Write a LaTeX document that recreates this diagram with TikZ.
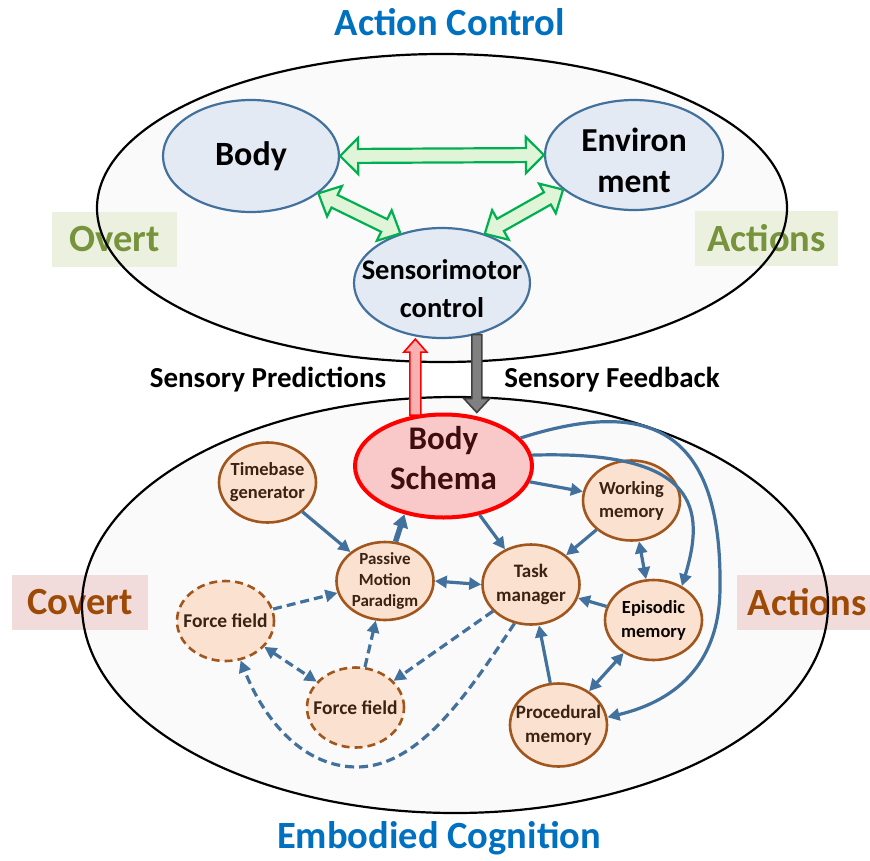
\documentclass[tikz,border=0pt]{standalone}
\usepackage{fontspec}
\setmainfont{Carlito}
\usetikzlibrary{shapes.geometric,arrows.meta,calc}
\definecolor{titleblue}{HTML}{0070C0}
\definecolor{ovgreen}{HTML}{77933C}
\definecolor{ovbox}{HTML}{EBF1DE}
\definecolor{cvbrown}{HTML}{9C4A06}
\definecolor{cvbox}{HTML}{F2DCDB}
\definecolor{bgell}{HTML}{FAFAFA}
\definecolor{bnfill}{HTML}{E4EAF4}
\definecolor{bnline}{HTML}{41719C}
\definecolor{pfill}{HTML}{FBE2D0}
\definecolor{pline}{HTML}{A0561C}
\definecolor{ptext}{HTML}{3B2314}
\definecolor{sfill}{HTML}{F9C9C9}
\definecolor{stext}{HTML}{3F0D0D}
\definecolor{arrblue}{HTML}{41719C}
\definecolor{gfill}{HTML}{E0F4D8}
\definecolor{gline}{HTML}{00B050}
\definecolor{rfill}{HTML}{F9B0B0}
\definecolor{grayfill}{HTML}{808080}
\definecolor{grayline}{HTML}{404040}
\newcommand\dblblock[5]{%
\draw[#3] (#1) -- ($(#1)!18pt!(#2)!#5!90:(#2)$) -- ($(#1)!18pt!(#2)!#4!90:(#2)$)
 -- ($(#2)!18pt!(#1)!#4!-90:(#1)$) -- ($(#2)!18pt!(#1)!#5!-90:(#1)$) -- (#2)
 -- ($(#2)!18pt!(#1)!#5!90:(#1)$) -- ($(#2)!18pt!(#1)!#4!90:(#1)$)
 -- ($(#1)!18pt!(#2)!#4!-90:(#2)$) -- ($(#1)!18pt!(#2)!#5!-90:(#2)$) -- cycle;}
\newcommand\sglblock[6]{%
\draw[#3] ($(#1)!#4!90:(#2)$) -- ($(#2)!#6!(#1)!#4!-90:(#1)$) -- ($(#2)!#6!(#1)!#5!-90:(#1)$) -- (#2)
 -- ($(#2)!#6!(#1)!#5!90:(#1)$) -- ($(#2)!#6!(#1)!#4!90:(#1)$) -- ($(#1)!#4!-90:(#2)$) -- cycle;}
\tikzset{
 bignode/.style={ellipse, draw=bnline, line width=2.2pt, fill=bnfill, inner sep=0pt},
 btxt/.style={align=center, text=black, inner sep=0pt},
 smallnode/.style={ellipse, draw=pline, line width=2.6pt, fill=pfill, inner sep=0pt,
   minimum width=97pt, minimum height=80pt},
 stxt/.style={align=center, inner sep=0pt, text=ptext, font=\fontsize{18.5}{23}\selectfont\bfseries},
 dashnode/.style={smallnode, dash pattern=on 8pt off 5pt},
 lbl/.style={inner sep=0pt, minimum height=55pt, font=\fontsize{38.5}{42}\selectfont\bfseries},
 barr/.style={draw=arrblue, line width=3.2pt, -{Triangle[length=12pt,width=12pt]}},
 bdbl/.style={draw=arrblue, line width=3.2pt, {Triangle[length=12pt,width=12pt]}-{Triangle[length=12pt,width=12pt]}},
 dashed arr/.style={barr, dash pattern=on 9pt off 5pt},
 dashed dbl/.style={bdbl, dash pattern=on 9pt off 5pt},
 garrow/.style={draw=gline, line width=2.2pt, fill=gfill, line join=miter},
}
\begin{document}
\begin{tikzpicture}[x=1pt,y=-1pt]
\useasboundingbox (0,0) rectangle (870,860);
% background ellipses
\fill[bgell] (442,208) ellipse [x radius=345, y radius=154];
\fill[bgell] (455,605) ellipse [x radius=373, y radius=208];
% labels
\node[lbl, fill=ovbox, text=ovgreen, minimum width=125pt] (overt) at (114.5,239.5) {Overt};
\node[lbl, fill=ovbox, text=ovgreen, minimum width=143pt] (act1) at (766.5,238.5) {Actions};
\node[lbl, fill=cvbox, text=cvbrown, minimum width=136pt] (covert) at (80,602.5) {Covert};
\node[lbl, fill=cvbox, text=cvbrown, minimum width=140pt, anchor=west] (act2) at (737,602.5) {Actions};
% outlines
\draw[line width=2.2pt] (442,208) ellipse [x radius=345, y radius=154];
\draw[line width=2.2pt] (455,605) ellipse [x radius=373, y radius=208];
% titles
\node[text=titleblue, font=\fontsize{38.5}{44}\selectfont\bfseries] (t1) at (450,22) {Action Control};
\node[text=titleblue, font=\fontsize{38.5}{44}\selectfont\bfseries] (t2) at (439,838) {Embodied Cognition};
% top nodes
\node[bignode, minimum width=176pt, minimum height=112pt,
  label={[btxt, font=\fontsize{34}{40}\selectfont\bfseries]center:Body}] (body) at (251,156) {};
\node[bignode, minimum width=178pt, minimum height=110pt,
  label={[btxt, yshift=-5pt, font=\fontsize{33.5}{41}\selectfont\bfseries]center:Environ\\ment}] (env) at (634,155) {};
\node[bignode, minimum width=176pt, minimum height=110pt,
  label={[btxt, yshift=-6pt, font=\fontsize{28.5}{38}\selectfont\bfseries]center:Sensorimotor\\control}] (sm) at (442,283) {};
\dblblock{body.east}{env.west}{garrow}{7pt}{18pt}
\dblblock{body.-29}{sm.130}{garrow}{7pt}{17pt}
\dblblock{env.206}{sm.49}{garrow}{7pt}{17pt}
% schema
\node[ellipse, draw=red, line width=4pt, fill=sfill, inner sep=0pt, minimum width=177pt, minimum height=103pt,
  label={[align=center, inner sep=0pt, text=stext, yshift=8pt, font=\fontsize{33}{40}\selectfont\bfseries]center:Body\\Schema}] (schema) at (443.5,466) {};
% vertical arrows
\coordinate (rs) at (schema.119);
\coordinate (re) at (rs |- sm.south);
\sglblock{rs}{re}{draw=red, line width=1.6pt, fill=rfill}{5.5pt}{11.5pt}{13pt}
\coordinate (gs) at (sm.-56);
\coordinate (ge) at (gs |- schema.north);
\sglblock{gs}{ge}{draw=grayline, line width=1.6pt, fill=grayfill}{5pt}{13pt}{14pt}
\node[font=\fontsize{29}{34}\selectfont\bfseries] (sp) at (268,380) {Sensory Predictions};
\node[font=\fontsize{29}{34}\selectfont\bfseries] (sf) at (612,380) {Sensory Feedback};
% small nodes
\node[smallnode, label={[stxt]center:Timebase\\generator}] (tb) at (267.5,482.5) {};
\node[smallnode, minimum height=78pt, label={[stxt, font=\fontsize{17}{21}\selectfont\bfseries]center:Passive\\Motion\\Paradigm}] (pmp) at (385,581) {};
\node[smallnode, label={[stxt, font=\fontsize{19}{24}\selectfont\bfseries]center:Task\\manager}] (task) at (531,584.5) {};
\node[smallnode, label={[stxt]center:Working\\memory}] (wm) at (631.5,500.5) {};
\node[smallnode, label={[stxt, text=black!85!ptext, font=\fontsize{18.5}{24}\selectfont\bfseries]center:Episodic\\memory}] (epi) at (653.5,620) {};
\node[smallnode, minimum height=83pt, label={[stxt, font=\fontsize{19}{24}\selectfont\bfseries]center:Procedural\\memory}] (proc) at (558.5,725) {};
\node[dashnode, label={[stxt, font=\fontsize{19.5}{24}\selectfont\bfseries]center:Force field}] (ff1) at (225.5,621) {};
\node[dashnode, label={[stxt, font=\fontsize{19.5}{24}\selectfont\bfseries]center:Force field}] (ff2) at (355.5,707.5) {};
% blue arrows
\draw[barr] (tb) -- (pmp);
\draw[draw=arrblue, line width=5.5pt, -{Triangle[length=13pt,width=15pt]}] (pmp.75) -- (schema.231);
\draw[bdbl] (task.west) -- (pmp.east);
\draw[barr] (schema) -- (task);
\draw[barr] (schema) -- (wm);
\draw[barr] (wm) -- (task);
\draw[bdbl] (wm) -- (epi);
\draw[barr] (epi) -- (task);
\draw[bdbl] (epi) -- (proc);
\draw[barr] (proc) -- (task);
\draw[barr] (schema.7) .. controls (700,450) and (705,510) .. (epi.50);
\draw[barr] (schema.20) .. controls (640,400) and (722,420) .. (720,587) .. controls (720,660) and (680,700) .. (proc.9);
% dashed arrows
\draw[dashed arr] (ff1) -- (pmp);
\draw[dashed dbl] (ff1) -- (ff2);
\draw[dashed arr] (ff2) -- (pmp);
\draw[dashed arr] (task) -- (ff2);
\draw[dashed arr] (task.247) .. controls (470,690) and (420,767) .. (357,767) .. controls (300,767) and (262,715) .. (ff1.-69);
\end{tikzpicture}
\end{document}
